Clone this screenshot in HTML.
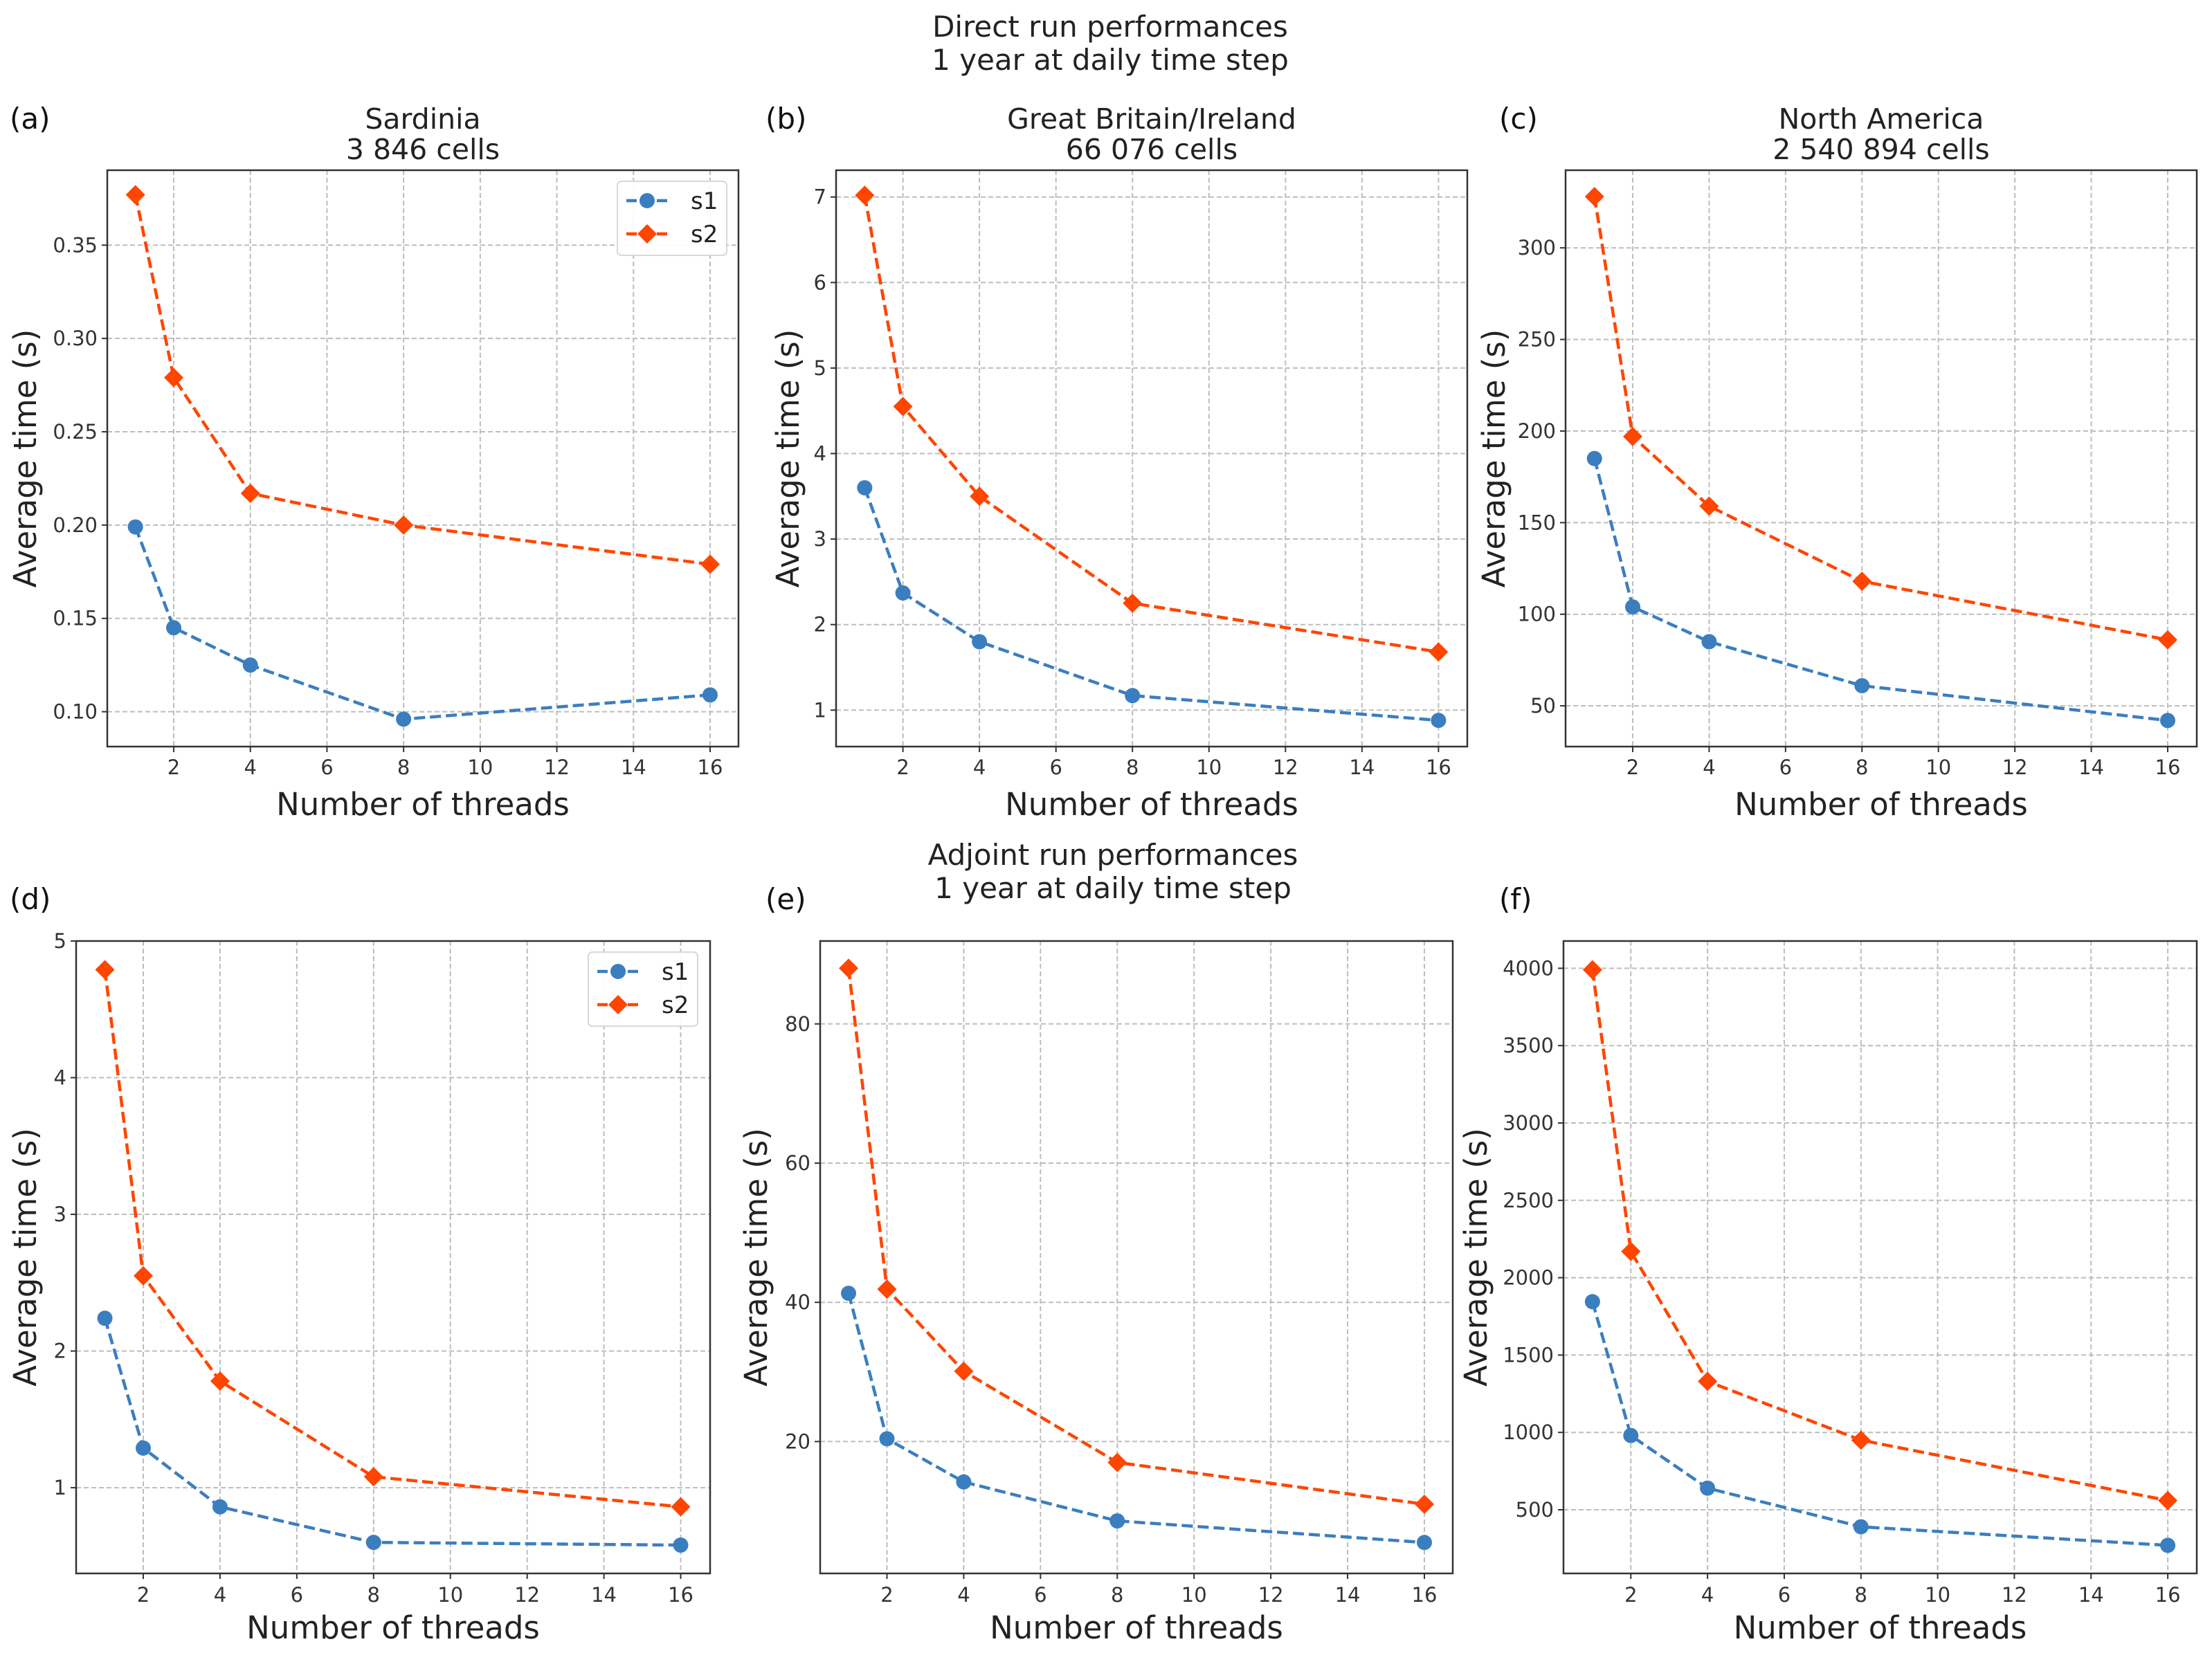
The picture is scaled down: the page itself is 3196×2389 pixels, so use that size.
<!DOCTYPE html>
<html><head><meta charset="utf-8"><style>
html,body{margin:0;padding:0;background:#fff;}
svg{display:block;font-family:"DejaVu Sans","Liberation Sans",sans-serif;}
</style></head><body>
<svg id="fig" width="3196" height="2389" viewBox="0 0 3196 2389" xmlns="http://www.w3.org/2000/svg">
<rect width="3196" height="2389" fill="#fff"/>
<g font-size="42" fill="#222" text-anchor="middle">
<text x="1604" y="53">Direct run performances</text>
<text x="1604" y="101">1 year at daily time step</text>
</g>
<g font-size="42" fill="#222" text-anchor="middle">
<text x="1608" y="1250">Adjoint run performances</text>
<text x="1608" y="1298">1 year at daily time step</text>
</g>
</svg>
<script>
const threads = [1, 2, 4, 8, 16];
const xTicks = [2, 4, 6, 8, 10, 12, 14, 16];
const aS1 = [0.199, 0.145, 0.125, 0.096, 0.109];
const aS2 = [0.377, 0.279, 0.217, 0.200, 0.179];
const aTicks = [0.10, 0.15, 0.20, 0.25, 0.30, 0.35];
const aTickLabels = ["0.10", "0.15", "0.20", "0.25", "0.30", "0.35"];
const bS1 = [3.6, 2.37, 1.8, 1.17, 0.88];
const bS2 = [7.02, 4.55, 3.5, 2.25, 1.68];
const bTicks = [1, 2, 3, 4, 5, 6, 7];
const cS1 = [185, 104, 85, 61, 42];
const cS2 = [328, 197, 159, 118, 86];
const cTicks = [50, 100, 150, 200, 250, 300];
const dS1 = [2.24, 1.29, 0.86, 0.6, 0.58];
const dS2 = [4.79, 2.55, 1.78, 1.08, 0.86];
const dTicks = [1, 2, 3, 4, 5];
const eS1 = [41.3, 20.4, 14.2, 8.6, 5.5];
const eS2 = [88, 41.9, 30.1, 17, 11];
const eTicks = [20, 40, 60, 80];
const fS1 = [1845, 980, 640, 390, 270];
const fS2 = [3990, 2170, 1330, 950, 560];
const fTicks = [500, 1000, 1500, 2000, 2500, 3000, 3500, 4000];

const NS = "http://www.w3.org/2000/svg";
const svg = document.getElementById("fig");
function mk(tag, attrs, parent) {
  const e = document.createElementNS(NS, tag);
  for (const k in attrs) e.setAttribute(k, attrs[k]);
  (parent || svg).appendChild(e);
  return e;
}
const BLUE = "#3a7ebf", ORANGE = "#ff4500";

const TOP = {T:246, B:1079, lab:186, title:186, xt:1119, xl:1178};
const BOT = {T:1360, B:2274, lab:1314, title:0, xt:2315, xl:2368};
const panels = [
  {id:"a", row:TOP, title:["Sardinia","3 846 cells"], s1:aS1, s2:aS2, ticks:aTicks, labels:aTickLabels,
   L:155, R:1067, x2:251, x16:1026, yv:[0.10,0.35], yp:[1028.6,354.3], labx:14, ylx:36, legend:[892,262,107]},
  {id:"b", row:TOP, title:["Great Britain/Ireland","66 076 cells"], s1:bS1, s2:bS2, ticks:bTicks,
   L:1208, R:2120, x2:1304.6, x16:2078.4, yv:[1,7], yp:[1026.3,284.7], labx:1106, ylx:1138},
  {id:"c", row:TOP, title:["North America","2 540 894 cells"], s1:cS1, s2:cS2, ticks:cTicks,
   L:2262, R:3174, x2:2359, x16:3132, yv:[50,300], yp:[1020.1,358.2], labx:2166, ylx:2158},
  {id:"d", row:BOT, title:null, s1:dS1, s2:dS2, ticks:dTicks,
   L:110, R:1026, x2:207, x16:983.5, yv:[1,5], yp:[2150.1,1360], labx:14, ylx:36, legend:[850,1376,107]},
  {id:"e", row:BOT, title:null, s1:eS1, s2:eS2, ticks:eTicks,
   L:1185, R:2099, x2:1281.5, x16:2058, yv:[20,80], yp:[2083.4,1479.8], labx:1106, ylx:1092},
  {id:"f", row:BOT, title:null, s1:fS1, s2:fS2, ticks:fTicks,
   L:2259, R:3174, x2:2356.3, x16:3132.1, yv:[500,4000], yp:[2182,1399.4], labx:2166, ylx:2132}
];

function diamond(cx, cy, r) {
  return `${cx},${cy-r} ${cx+r},${cy} ${cx},${cy+r} ${cx-r},${cy}`;
}

panels.forEach(p => {
  const T = p.row.T, B = p.row.B;
  const g = mk("g", {});
  
  
  const xs = v => p.x2 + (v - 2) * (p.x16 - p.x2) / 14;
  const ys = v => p.yp[0] + (v - p.yv[0]) * (p.yp[1] - p.yp[0]) / (p.yv[1] - p.yv[0]);
  const cx = (p.L + p.R) / 2, cy = (T + B) / 2;

  xTicks.forEach(t => {
    const l = mk("line", {x1:xs(t), x2:xs(t), y1:T, y2:B, stroke:"#bdbdbd", "stroke-width":2, "stroke-dasharray":"7,4"}, g);
    
    
    const tk = mk("line", {x1:xs(t), x2:xs(t), y1:B, y2:B+8, stroke:"#333", "stroke-width":2}, g);
    
    
    const tx = mk("text", {x:xs(t), y:p.row.xt, "font-size":29, fill:"#333", "text-anchor":"middle"}, g);
    
    
    tx.textContent = t;
  });
  p.ticks.forEach((t, i) => {
    const l = mk("line", {x1:p.L, x2:p.R, y1:ys(t), y2:ys(t), stroke:"#bdbdbd", "stroke-width":2, "stroke-dasharray":"7,4"}, g);
    
    
    const tk = mk("line", {x1:p.L-8, x2:p.L, y1:ys(t), y2:ys(t), stroke:"#333", "stroke-width":2}, g);
    
    
    const tx = mk("text", {x:p.L-14, y:ys(t)+10, "font-size":29, fill:"#333", "text-anchor":"end"}, g);
    
    
    tx.textContent = p.labels ? p.labels[i] : t;
  });

  [[p.s1, BLUE, "s1"], [p.s2, ORANGE, "s2"]].forEach(([vals, col, nm]) => {
    const pts = vals.map((v, i) => xs(threads[i]) + "," + ys(v)).join(" ");
    const pl = mk("polyline", {points:pts, fill:"none", stroke:col, "stroke-width":4.5, "stroke-dasharray":"16,7"}, g);
    
    
    vals.forEach((v, i) => {
      let m;
      if (nm === "s1") m = mk("circle", {cx:xs(threads[i]), cy:ys(v), r:11, fill:col}, g);
      else m = mk("polygon", {points:diamond(xs(threads[i]), ys(v), 14), fill:col}, g);
      
      
    });
  });

  const fr = mk("rect", {x:p.L, y:T, width:p.R-p.L, height:B-T, fill:"none", stroke:"#333", "stroke-width":2.5}, g);
  
  

  const xl = mk("text", {x:cx, y:p.row.xl, "font-size":45, fill:"#222", "text-anchor":"middle"}, g);
  
  
  xl.textContent = "Number of  threads";
  const yl = mk("text", {x:0, y:0, "font-size":45, fill:"#222", "text-anchor":"middle", transform:`translate(${p.ylx+16},${cy}) rotate(-90)`}, g);
  
  
  yl.textContent = "Average time (s)";
  const pl = mk("text", {x:p.labx, y:p.row.lab, "font-size":42, fill:"#111"}, g);
  
  
  pl.textContent = "(" + p.id + ")";
  if (p.title) {
    p.title.forEach((s, i) => {
      const t = mk("text", {x:cx, y:p.row.title + i*44, "font-size":41, fill:"#222", "text-anchor":"middle"}, g);
      
      
      t.textContent = s;
    });
  }

  if (p.legend) {
    const [lx, ly, lh] = p.legend;
    const lg = mk("g", {}, g);
    
    
    mk("rect", {x:lx, y:ly, width:158, height:lh, rx:6, fill:"#fff", "fill-opacity":0.9, stroke:"#d8d8d8", "stroke-width":2}, lg);
    [["s1", BLUE], ["s2", ORANGE]].forEach(([nm, col], i) => {
      const yy = ly + 28 + i*48;
      const e = mk("g", {}, lg);
      
      
      mk("line", {x1:lx+13, x2:lx+73, y1:yy, y2:yy, stroke:col, "stroke-width":4.5, "stroke-dasharray":"15,7"}, e);
      if (nm === "s1") mk("circle", {cx:lx+43, cy:yy, r:11, fill:col}, e);
      else mk("polygon", {points:diamond(lx+43, yy, 14), fill:col}, e);
      const t = mk("text", {x:lx+106, y:yy+12, "font-size":34, fill:"#222"}, e);
      t.textContent = nm;
    });
  }
});
</script>
</body></html>
